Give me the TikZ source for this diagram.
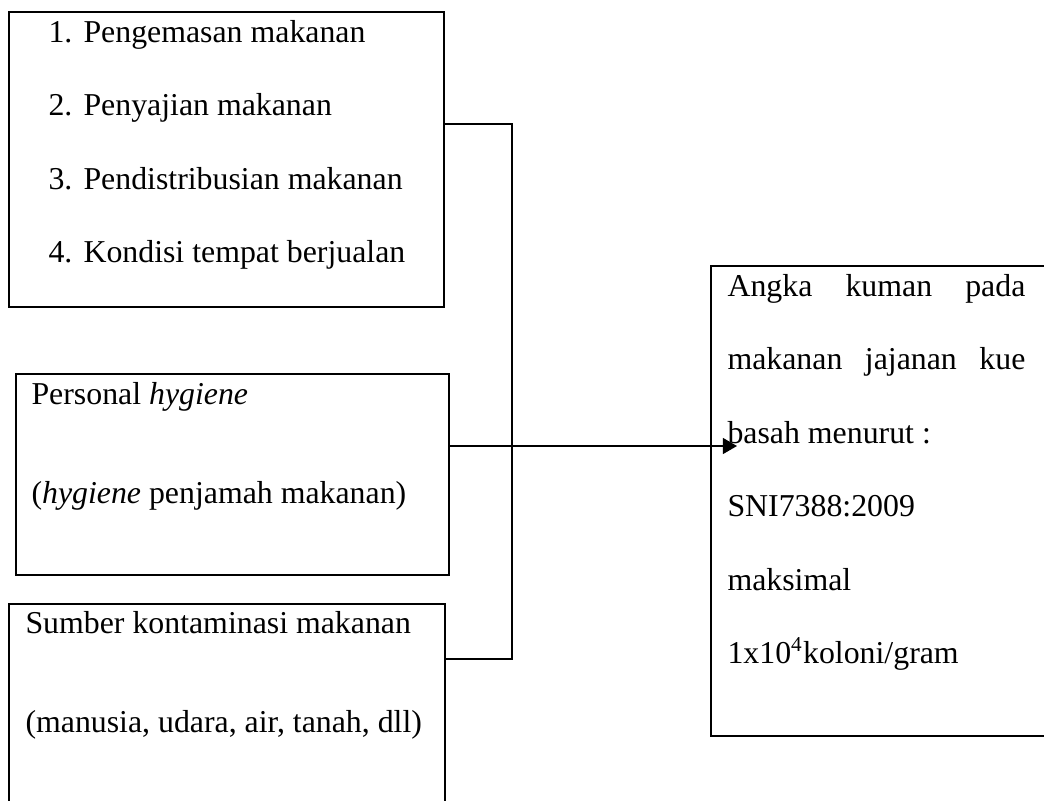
\documentclass[tikz,border=0pt]{standalone}
\usepackage{fontspec}
\setmainfont{Liberation Serif}
\usetikzlibrary{arrows.meta}

\begin{document}
\begin{tikzpicture}
[x=0.377pt,y=-0.377pt,
kotak/.style={draw,line width=0.75pt,inner sep=0pt},
teks/.style={anchor=base west,inner sep=0pt,font=\fontsize{12}{14}\selectfont},
garis/.style={line width=0.55pt},
panah/.style={line width=0.55pt,-{Triangle[length=5.3pt,width=6pt]}}]

\useasboundingbox (0,0) rectangle (1044,801);
\clip (0,0) rectangle (1044,801);

% kotak faktor
\node [kotak,minimum width=164pt,minimum height=111.2pt] (b1) at (226.5,159.5) {};
\node [kotak,minimum width=163.2pt,minimum height=75.8pt] (b2) at (232.5,474.5) {};
\node [kotak,minimum width=164.4pt,minimum height=85.2pt] (b3) at (227,717) {};
% kotak hasil
\node [kotak,minimum width=135.3pt,minimum height=177.2pt] (hasil) at (890.5,501) {};

\node [teks] (n1) at (48,42) {1.};
\node [teks] (t1) at (83,42) {Pengemasan makanan};
\node [teks] (n2) at (48,115.5) {2.};
\node [teks] (t2) at (83,115.5) {Penyajian makanan};
\node [teks] (n3) at (48,189) {3.};
\node [teks] (t3) at (83,189) {Pendistribusian makanan};
\node [teks] (n4) at (48,262.5) {4.};
\node [teks] (t4) at (83,262.5) {Kondisi tempat berjualan};

\node [teks] (p1) at (31,404) {Personal \textit{hygiene}};
\node [teks] (p2) at (31,503) {(\textit{hygiene} penjamah makanan)};

\node [teks] (s1) at (25,633) {Sumber kontaminasi makanan};
\node [teks] (s2) at (25,732) {(manusia, udara, air, tanah, dll)};

\node [teks,text width=112.3pt] (h1) at (727,296) {Angka\hfill kuman\hfill pada};
\node [teks,text width=112.3pt] (h2) at (727,369.5) {makanan\hfill jajanan\hfill kue};
\node [teks] (h3) at (727,443) {basah menurut :};
\node [teks] (h4) at (727,516.5) {SNI7388:2009};
\node [teks] (h5) at (727,590) {maksimal};
\node [teks] (h6) at (727,663.5) {1x10\textsuperscript{4}koloni/gram};

% penghubung
\coordinate (atas) at (512,124);
\coordinate (bawah) at (512,659);
\coordinate (ujung) at (737,446);
\draw [garis] (atas -| b1.east) -- (atas) -- (bawah) -- (bawah -| b3.east);
\draw [panah] (ujung -| b2.east) -- (ujung);

\end{tikzpicture}
\end{document}
